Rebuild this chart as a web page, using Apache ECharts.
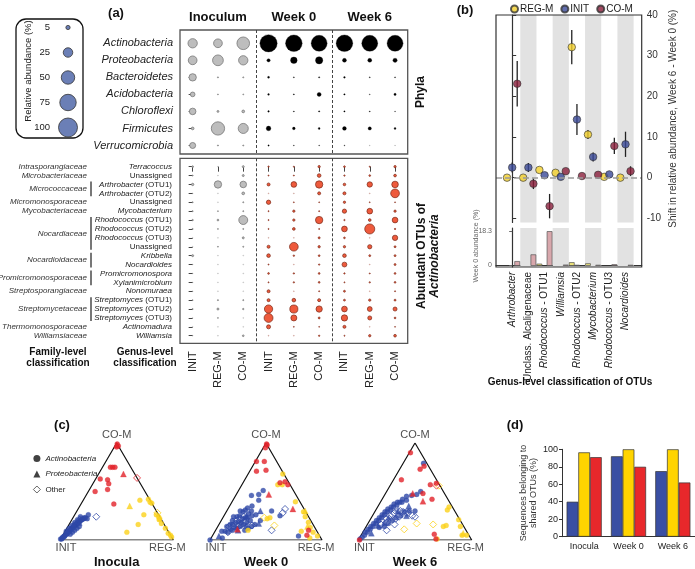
<!DOCTYPE html>
<html>
<head>
<meta charset="utf-8">
<script src="https://cdn.jsdelivr.net/npm/echarts@6.0.0/dist/echarts.min.js"></script>
<style>
html,body{margin:0;padding:0;background:#fff;}
#chart{width:695px;height:569px;}
</style>
</head>
<body>
<div id="chart"></div>
<script>
// ===================== DATA =====================
// ---- Panel (a) ----
const legendSizes = [5, 25, 50, 75, 100];
const sampleGroups = ['Inoculum', 'Week 0', 'Week 6'];
const treatments = ['INIT', 'REG-M', 'CO-M'];
const phyla = ['Actinobacteria', 'Proteobacteria', 'Bacteroidetes', 'Acidobacteria', 'Chloroflexi', 'Firmicutes', 'Verrucomicrobia'];
// columns: Inoculum INIT, REG-M, CO-M | Week 0 INIT, REG-M, CO-M | Week 6 INIT, REG-M, CO-M
const phylaAbundance = [
  [24, 21, 44, 83, 77, 71, 77, 71, 71],
  [21, 32, 24, 3, 12, 15, 4.4, 4.4, 5],
  [15, 0.3, 0.3, 1.1, 0.3, 0.5, 0.8, 0.3, 0.3],
  [6, 0.2, 0.2, 0.8, 0.3, 4.4, 0.6, 0.2, 1.5],
  [12, 1, 2, 0.7, 0.3, 0.5, 0.5, 0.3, 0.2],
  [2, 49, 28, 6, 2, 1, 4, 3, 1],
  [10, 0.3, 0.3, 0.5, 0.2, 0.2, 0.2, 0.1, 0.1]
];
const otuGenus = ['Terracoccus', 'Unassigned', 'Arthrobacter (OTU1)', 'Arthrobacter (OTU2)', 'Unassigned', 'Mycobacterium',
  'Rhodococcus (OTU1)', 'Rhodococcus (OTU2)', 'Rhodococcus (OTU3)', 'Unassigned', 'Kribbella', 'Nocardioides',
  'Promicromonospora', 'Xylanimicrobium', 'Nonomuraea', 'Streptomyces (OTU1)', 'Streptomyces (OTU2)', 'Streptomyces (OTU3)',
  'Actinomadura', 'Williamsia'];
const otuAbundance = [
  [0.8, 0.1, 1.1, 0.5, 0.3, 1.5, 0.8, 0.3, 1.5],
  [0.3, 0.1, 1.1, 0.3, 0.3, 3.7, 0.5, 0.8, 2],
  [1.5, 15, 12, 2.5, 9, 15, 1.8, 8, 12],
  [0.1, 0.1, 2, 0.1, 0.1, 2.5, 2.5, 0.1, 21],
  [0.3, 0.1, 0.3, 5.2, 0.2, 0.2, 1.5, 0.2, 0.2],
  [0.3, 0.2, 0.3, 0.3, 1.5, 0.3, 5, 9, 1.5],
  [0.5, 0.8, 22, 0.3, 1.5, 15, 0.5, 2, 9],
  [0.3, 0.2, 0.3, 0.3, 2, 0.3, 9, 28, 0.5],
  [0.1, 0.1, 1.1, 0.1, 0.1, 1.1, 0.8, 0.1, 8],
  [0.1, 0.2, 0.3, 2.5, 21, 1.5, 1.5, 5, 1],
  [1.1, 0.1, 0.1, 3.7, 0.6, 0.8, 3.7, 1, 1],
  [0.1, 0.1, 0.1, 0.3, 0.1, 0.5, 6.5, 0.1, 1],
  [0.1, 0.1, 0.1, 0.8, 0.5, 0.8, 0.5, 0.3, 0.8],
  [0.1, 0.1, 0.1, 0.3, 0.5, 0.8, 0.3, 0.5, 0.8],
  [0.1, 0.1, 0.1, 2.5, 0.1, 0.3, 1, 0.1, 0.3],
  [0.2, 0.3, 0.3, 2.5, 3.7, 2.5, 1, 1.5, 1],
  [0.3, 1.1, 0.5, 19, 18, 11, 9, 6.5, 4.5],
  [0.1, 0.2, 0.1, 22, 10, 1, 11, 4.5, 0.8],
  [0.1, 0.1, 0.1, 4.5, 0.2, 0.2, 2.5, 0.1, 0.2],
  [0.1, 0.1, 0.8, 0.1, 0.1, 0.5, 0.3, 1.5, 2]
];
// family name, first row index, last row index
const familyGroups = [
  ['Intrasporangiaceae', 0, 0], ['Microbacteriaceae', 1, 1], ['Micrococcaceae', 2, 3],
  ['Micromonosporaceae', 4, 4], ['Mycobacteriaceae', 5, 5], ['Nocardiaceae', 6, 9],
  ['Nocardioidaceae', 10, 11], ['Promicromonosporaceae', 12, 13], ['Streptosporangiaceae', 14, 14],
  ['Streptomycetaceae', 15, 17], ['Thermomonosporaceae', 18, 18], ['Williamsiaceae', 19, 19]
];

// ---- Panel (b) ----
const shiftGenus = ['Arthrobacter', 'Unclass. Alcaligenaceae', 'Rhodococcus - OTU1', 'Williamsia',
  'Rhodococcus - OTU2', 'Mycobacterium', 'Rhodococcus - OTU3', 'Nocardioides'];
const shiftREGM = [0, 0, 1.9, 1.2, 32.1, 10.6, 0.2, 0];
const shiftINIT = [2.5, 2.5, 0.6, 0.2, 14.3, 5.1, 0.8, 8.2];
const shiftCOM = [23.1, -1.5, -7.0, 1.6, 0.4, 0.7, 7.8, 1.6];
const errREGM = [0, 0, 0, 0, 4.2, 1.1, 0, 0];
const errINIT = [1.2, 1.1, 0, 0, 3.8, 1.1, 0, 3.1];
const errCOM = [5.6, 1.3, 3.0, 0, 0, 0, 2.0, 1.2];
const week0REGM = [0, 0, 0.8, 0, 1.6, 1.0, 0, 0];
const week0INIT = [0, 0, 0, 0, 0.2, 0, 0, 0];
const week0COM = [2.2, 5.8, 18.3, 0.3, 0, 0.2, 0.5, 0.2];

// ---- Panel (c) : ternary compositions [INIT %, REG-M %, CO-M %, phylum] a=Actinobacteria p=Proteobacteria o=Other
const inoculaINIT = [
  [99,0,1,'a'],[98,1,1,'a'],[97,1,2,'a'],[96,1,3,'a'],[95,2,3,'a'],[94,2,4,'a'],[93,2,5,'a'],[92,2,6,'a'],[91,3,6,'a'],
  [90,3,7,'a'],[89,3,8,'a'],[88,3,9,'a'],[87,4,9,'a'],[86,4,10,'a'],[85,4,11,'a'],[84,4,12,'a'],[83,5,12,'a'],[82,5,13,'a'],
  [81,5,14,'a'],[80,5,15,'a'],[79,6,15,'a'],[78,6,16,'a'],[77,6,17,'a'],[76,7,17,'a'],[75,7,18,'a'],[74,7,19,'a'],
  [73,8,19,'a'],[72,8,20,'a'],[71,8,21,'a'],[70,9,21,'a'],[69,9,22,'a'],[68,10,22,'a'],[67,10,23,'a'],[66,11,23,'a'],
  [88,6,6,'a'],[85,7,8,'a'],[82,8,10,'a'],[79,9,12,'a'],[76,10,14,'a'],[90,1,9,'a'],[86,2,12,'a'],[82,3,15,'a'],
  [78,4,18,'a'],[74,5,21,'a'],[70,6,24,'a'],[65,13,22,'a'],[62,12,26,'a'],
  [80,4,16,'p'],[74,8,18,'p'],
  [56,20,24,'o'],[72,7,21,'o']
];
const inoculaREGM = [
  [9,50,41,'a'],[1,57,42,'a'],[1,60,39,'a'],[0,62,38,'a'],[13,61,26,'a'],[2,72,26,'a'],[1,75,24,'a'],[1,77,22,'a'],
  [2,81,17,'a'],[23,61,16,'a'],[37,55,8,'a'],[1,87,12,'a'],[1,92,7,'a'],[0,97,3,'a'],[0,95,5,'a'],[2,77,21,'a'],
  [21,44,35,'p'],
  [0,72,28,'o']
];
const inoculaCOM = [
  [0,1,99,'a'],[0,3,97,'a'],[2,2,96,'a'],[18,7,75,'a'],[16,9,75,'a'],[14,11,75,'a'],[33,4,63,'a'],[27,11,62,'a'],
  [28,14,58,'a'],[32,16,52,'a'],[44,6,50,'a'],[34,29,37,'a'],
  [10,22,68,'p'],[1,1,98,'p'],
  [0,36,64,'o']
];
const week0INITtern = [
  [100,0,0,'a'],[88,10,2,'a'],[80,12,8,'a'],[75,15,10,'a'],[72,12,16,'a'],[70,18,12,'a'],[68,14,18,'a'],[66,20,14,'a'],
  [65,16,19,'a'],[63,19,18,'a'],[62,22,16,'a'],[60,18,22,'a'],[58,24,18,'a'],[57,20,23,'a'],[55,22,23,'a'],[54,26,20,'a'],
  [52,21,27,'a'],[50,25,25,'a'],[48,22,30,'a'],[46,28,26,'a'],[45,20,35,'a'],[40,14,46,'a'],[36,23,41,'a'],[27,22,51,'a'],
  [33,20,47,'a'],[25,50,25,'a'],[19,77,4,'a'],[78,8,14,'a'],[74,10,16,'a'],[70,10,20,'a'],[67,9,24,'a'],[64,12,24,'a'],
  [61,14,25,'a'],[58,12,30,'a'],[56,15,29,'a'],[53,16,31,'a'],[50,17,33,'a'],[60,28,12,'a'],[64,26,10,'a'],[56,30,14,'a'],
  [52,32,16,'a'],[85,6,9,'a'],[82,9,9,'a'],[76,13,11,'a'],[71,16,13,'a'],[30,40,30,'a'],[45,35,20,'a'],
  [70,20,10,'p'],[60,25,15,'p'],[40,30,30,'p'],[55,20,25,'p'],[90,6,4,'p'],[48,35,17,'p'],
  [72,14,14,'o'],[68,18,14,'o'],[64,20,16,'o'],[60,22,18,'o'],[66,14,20,'o'],[76,10,14,'o'],[58,18,24,'o'],[62,16,22,'o'],
  [17,51,32,'o'],[21,51,28,'o'],[40,50,10,'o'],[55,30,15,'o'],[80,12,8,'o']
];
const week0REGMtern = [
  [1,31,68,'a'],[11,32,57,'a'],[7,36,57,'a'],[4,56,39,'a'],[2,69,29,'a'],[3,73,24,'a'],[35,42,23,'a'],[3,78,18,'a'],
  [4,83,13,'a'],[4,89,8,'a'],[2,93,4,'a'],[61,29,10,'a'],[10,89,2,'a'],[14,77,9,'a'],[38,40,22,'a'],
  [0,70,30,'p'],[6,80,14,'p'],
  [40,37,23,'o'],[35,50,15,'o']
];
const week0COMtern = [
  [0,1,99,'a'],[0,2,97,'a'],[3,2,95,'a'],[18,1,81,'a'],[11,8,81,'a'],[23,6,71,'a'],[14,14,72,'a'],[3,37,60,'a'],
  [8,33,59,'a'],[2,41,57,'a'],[7,83,10,'a'],[11,84,5,'a'],
  [24,29,47,'p'],[10,58,32,'p'],[70,19,11,'p']
];
const week6INITtern = [
  [98,1,1,'a'],[95,2,3,'a'],[92,3,5,'a'],[90,2,8,'a'],[88,4,8,'a'],[86,3,11,'a'],[84,5,11,'a'],[82,4,14,'a'],[80,6,14,'a'],
  [78,5,17,'a'],[76,7,17,'a'],[74,6,20,'a'],[72,8,20,'a'],[70,7,23,'a'],[68,9,23,'a'],[66,8,26,'a'],[64,10,26,'a'],
  [62,9,29,'a'],[60,11,29,'a'],[58,10,32,'a'],[56,13,31,'a'],[54,12,34,'a'],[52,14,34,'a'],[50,13,37,'a'],[48,16,36,'a'],
  [46,15,39,'a'],[44,17,39,'a'],[42,19,39,'a'],[40,18,42,'a'],[37,22,41,'a'],[35,20,45,'a'],[30,24,46,'a'],[3,18,79,'a'],
  [20,30,50,'a'],[25,28,47,'a'],[60,20,20,'a'],[55,22,23,'a'],[50,25,25,'a'],[45,26,29,'a'],[40,30,30,'a'],[65,18,17,'a'],
  [70,16,14,'a'],[75,12,13,'a'],[35,35,30,'a'],
  [85,8,7,'p'],[75,10,15,'p'],[62,15,23,'p'],[50,20,30,'p'],[45,30,25,'p'],[68,14,18,'p'],[38,27,35,'p'],
  [64,14,22,'o'],[60,15,25,'o'],[57,17,26,'o'],[54,18,28,'o'],[50,20,30,'o'],[48,22,30,'o'],[52,24,24,'o'],[56,22,22,'o'],
  [46,25,29,'o'],[44,28,28,'o'],[42,30,28,'o'],[60,24,16,'o'],[66,16,18,'o'],[72,12,16,'o'],[40,35,25,'o'],[38,38,24,'o'],
  [70,20,10,'o']
];
const week6REGMtern = [
  [3,63,34,'a'],[6,63,31,'a'],[1,78,21,'a'],[18,68,14,'a'],[15,70,15,'a'],[3,83,14,'a'],[6,89,5,'a'],[2,93,5,'a'],[30,69,1,'a'],
  [4,89,7,'p'],
  [26,58,16,'o'],[40,43,17,'o'],[54,35,11,'o'],[1,43,56,'o']
];
const week6COMtern = [
  [9,1,90,'a'],[9,18,73,'a'],[4,20,76,'a'],[31,7,62,'a'],[8,35,57,'a'],[2,40,59,'a'],[19,33,48,'a'],[14,44,42,'a'],
  [30,64,6,'a'],[31,68,1,'a'],[99,1,0,'a'],
  [28,24,48,'p'],[23,37,40,'p'],
  [3,41,56,'o']
];

// ---- Panel (d) ----
const sharedCats = ['Inocula', 'Week 0', 'Week 6'];
const sharedINIT = [40, 92, 75];
const sharedREGM = [96.5, 100, 100];
const sharedCOM = [91, 80, 62];

// ===================== CHART =====================
const FF = 'Liberation Sans, Arial, Helvetica, sans-serif';
const chart = echarts.init(document.getElementById('chart'), null, {renderer: 'canvas'});
const grids = [], xAxes = [], yAxes = [], series = [];
function addGrid(g, xa, ya) {
  grids.push(g);
  const gi = grids.length - 1;
  xa.gridIndex = gi; ya.gridIndex = gi;
  if (!xa.splitLine) xa.splitLine = {show: false};
  if (!ya.splitLine) ya.splitLine = {show: false};
  xAxes.push(xa); yAxes.push(ya);
  return {gi: gi, xi: xAxes.length - 1, yi: yAxes.length - 1};
}
function bub(v) { return Math.max(0.9, 1.9 * Math.sqrt(v)); }
const nCols = sampleGroups.length * treatments.length;
const colIdx = Array.from({length: nCols}, (_, i) => i);
const groupBounds = sampleGroups.slice(1).map((_, g) => ({xAxis: (g + 1) * treatments.length - 0.5}));
const dashedSep = {silent: true, symbol: 'none', label: {show: false}, lineStyle: {type: [3, 2], color: '#444', width: 1}, data: groupBounds};

// --- size legend of (a)
const LA = addGrid({left: 55, top: 15, width: 26, height: 125},
  {type: 'value', min: -1, max: 1, show: false},
  {type: 'category', data: legendSizes.map(String), inverse: true, axisLine: {show: false}, axisTick: {show: false},
   axisLabel: {fontSize: 9.5, color: '#222', margin: 5, fontFamily: FF}});
series.push({type: 'scatter', silent: true, xAxisIndex: LA.xi, yAxisIndex: LA.yi,
  data: legendSizes.map((v, i) => [0, i, v]), symbolSize: d => bub(d[2]),
  itemStyle: {color: '#6b7fb6', borderColor: '#333', borderWidth: 0.8, opacity: 1}});

// --- phyla bubble grid
const PG = addGrid({left: 180, top: 30, width: 227.7, height: 124, show: true, borderColor: '#555', borderWidth: 1.3},
  {type: 'value', min: -0.5, max: nCols - 0.5, axisLine: {show: false}, axisTick: {show: false}, axisLabel: {show: false}},
  {type: 'value', min: -0.78, max: phyla.length - 0.5, inverse: true, axisLine: {show: false},
   axisTick: {show: true, length: 4, customValues: phyla.map((_, i) => i), lineStyle: {color: '#444'}},
   axisLabel: {customValues: phyla.map((_, i) => i), formatter: v => phyla[Math.round(v)] || '',
     fontSize: 11, fontStyle: 'italic', color: '#222', margin: 7, fontFamily: FF}});
xAxes.push({type: 'value', gridIndex: PG.gi, position: 'top', min: -0.5, max: nCols - 0.5,
  axisLine: {show: false}, axisTick: {show: false}, splitLine: {show: false},
  axisLabel: {customValues: sampleGroups.map((_, g) => g * 3 + 1), formatter: v => sampleGroups[Math.round((v - 1) / 3)] || '',
    fontWeight: 'bold', fontSize: 13, color: '#111', margin: 6, fontFamily: FF}});
function bubbleItems(rows, colFilter) {
  const out = [];
  rows.forEach((row, r) => row.forEach((v, c) => {
    if (colFilter(c)) out.push({value: [c, r, v], itemStyle: {opacity: v < 0.15 ? 0.35 : 1}});
  }));
  return out;
}
series.push({type: 'scatter', silent: true, xAxisIndex: PG.xi, yAxisIndex: PG.yi, z: 3,
  data: bubbleItems(phylaAbundance, c => c < 3), symbolSize: d => bub(d[2]),
  itemStyle: {color: '#bdbdbd', borderColor: '#777', borderWidth: 0.8}, markLine: dashedSep});
series.push({type: 'scatter', silent: true, xAxisIndex: PG.xi, yAxisIndex: PG.yi, z: 3,
  data: bubbleItems(phylaAbundance, c => c >= 3), symbolSize: d => bub(d[2]),
  itemStyle: {color: '#000', borderColor: '#000', borderWidth: 0.3}});

// --- OTU bubble grid
function otuLabel(v) {
  const g = otuGenus[Math.round(v)];
  if (!g) return '';
  if (g === 'Unassigned') return '{n|Unassigned}';
  const k = g.indexOf(' (');
  return k < 0 ? '{i|' + g + '}' : '{i|' + g.slice(0, k) + '}{n|' + g.slice(k) + '}';
}
const OG = addGrid({left: 180, top: 158.3, width: 227.7, height: 185, show: true, borderColor: '#555', borderWidth: 1.3},
  {type: 'value', min: -0.5, max: nCols - 0.5, position: 'bottom', axisLine: {show: false},
   axisTick: {show: true, length: 5, customValues: colIdx, lineStyle: {color: '#444'}},
   axisLabel: {customValues: colIdx, formatter: v => treatments[Math.round(v) % 3], rotate: 90, fontSize: 11, color: '#222', margin: 8, fontFamily: FF}},
  {type: 'value', min: -0.94, max: otuGenus.length - 0.15, inverse: true, axisLine: {show: false},
   axisTick: {show: true, length: 4, customValues: otuGenus.map((_, i) => i), lineStyle: {color: '#444'}},
   axisLabel: {customValues: otuGenus.map((_, i) => i), formatter: otuLabel, margin: 8,
     rich: {i: {fontStyle: 'italic', fontSize: 8, color: '#222', fontFamily: FF}, n: {fontSize: 8, color: '#222', fontFamily: FF}}}});
series.push({type: 'scatter', silent: true, xAxisIndex: OG.xi, yAxisIndex: OG.yi, z: 3,
  data: bubbleItems(otuAbundance, c => c < 3), symbolSize: d => bub(d[2]),
  itemStyle: {color: '#bdbdbd', borderColor: '#777', borderWidth: 0.8}, markLine: dashedSep});
series.push({type: 'scatter', silent: true, xAxisIndex: OG.xi, yAxisIndex: OG.yi, z: 3,
  data: bubbleItems(otuAbundance, c => c >= 3), symbolSize: d => bub(d[2]),
  itemStyle: {color: '#ee5a3c', borderColor: '#7a2a18', borderWidth: 0.7}});

// --- Panel (b): shift grid
const bColors = {'REG-M': '#f3cf2c', 'INIT': '#3a4997', 'CO-M': '#8a1e3b'};
const bBarColors = {'REG-M': '#ebe27a', 'INIT': '#a6a9d6', 'CO-M': '#d8a7ac'};
const dodge = {'REG-M': -0.32, 'INIT': 0, 'CO-M': 0.31};
const bandAreas = shiftGenus.map((_, i) => i).filter(i => i % 2 === 1).map(i => [{xAxis: i - 0.5}, {xAxis: i + 0.5}]);
const BS = addGrid({left: 496, top: 15, width: 145.7, height: 207.4},
  {type: 'value', min: -1, max: shiftGenus.length, show: false},
  {type: 'value', min: -11, max: 40, position: 'right',
   axisLine: {show: true, lineStyle: {color: '#333', width: 1.2}},
   axisTick: {show: true, length: 4, customValues: [-10, 0, 10, 20, 30, 40], lineStyle: {color: '#333'}},
   axisLabel: {customValues: [-10, 0, 10, 20, 30, 40], fontSize: 10, color: '#333', margin: 5, fontFamily: FF},
   name: 'Shift in relative abundance, Week 6 - Week 0 (%)', nameLocation: 'middle', nameRotate: 90, nameGap: 27,
   nameTextStyle: {fontSize: 10, color: '#333', fontFamily: FF}});
const BB = addGrid({left: 496, top: 228, width: 145.7, height: 39},
  {type: 'value', min: -1, max: shiftGenus.length, position: 'bottom',
   axisLine: {show: true, lineStyle: {color: '#333', width: 1.2}}, axisTick: {show: false},
   axisLabel: {customValues: shiftGenus.map((_, i) => i), rotate: 90, margin: 5,
     formatter: v => {
       const g = shiftGenus[Math.round(v)];
       if (!g) return '';
       if (g.indexOf('Unclass') === 0) return '{n|' + g + '}';
       const p = g.split(' - ');
       return '{i|' + p[0] + '}' + (p[1] ? '{n| - ' + p[1] + '}' : '');
     },
     rich: {i: {fontStyle: 'italic', fontSize: 10, color: '#222', fontFamily: FF}, n: {fontSize: 10, color: '#222', fontFamily: FF}}}},
  {type: 'value', min: -0.8, max: 20.2, position: 'left',
   axisLine: {show: true, lineStyle: {color: '#333', width: 1.2}},
   axisTick: {show: true, length: 3, customValues: [0, 18.3], lineStyle: {color: '#666'}},
   axisLabel: {customValues: [0, 18.3], fontSize: 7, color: '#666', margin: 4, fontFamily: FF}});
// gray bands
series.push({type: 'scatter', silent: true, xAxisIndex: BS.xi, yAxisIndex: BS.yi, data: [], z: 0,
  markArea: {silent: true, itemStyle: {color: '#e2e2e2'}, data: bandAreas},
  markLine: {silent: true, symbol: 'none', label: {show: false}, lineStyle: {type: [6, 3], color: '#9a9a9a', width: 1.6}, data: [{yAxis: 0}]}});
series.push({type: 'scatter', silent: true, xAxisIndex: BB.xi, yAxisIndex: BB.yi, data: [], z: 0,
  markArea: {silent: true, itemStyle: {color: '#e2e2e2'}, data: bandAreas}});
const shiftSets = [['REG-M', shiftREGM, errREGM, week0REGM], ['INIT', shiftINIT, errINIT, week0INIT], ['CO-M', shiftCOM, errCOM, week0COM]];
shiftSets.forEach(([name, vals, errs, w0]) => {
  series.push({type: 'custom', name: 'err ' + name, silent: true, xAxisIndex: BS.xi, yAxisIndex: BS.yi, z: 2,
    data: vals.map((v, i) => [i + dodge[name], v, errs[i]]),
    renderItem: (params, api) => {
      const x = api.value(0), v = api.value(1), e = api.value(2);
      if (!e) return null;
      const a = api.coord([x, v + e]), b = api.coord([x, v - e]);
      return {type: 'line', shape: {x1: a[0], y1: a[1], x2: b[0], y2: b[1]}, style: {stroke: '#222', lineWidth: 1.3}};
    }});
  series.push({type: 'scatter', name: name, silent: true, xAxisIndex: BS.xi, yAxisIndex: BS.yi, z: 4,
    data: vals.map((v, i) => [i + dodge[name], v]), symbolSize: 7.5,
    itemStyle: {color: bColors[name], borderColor: '#333', borderWidth: 0.8}});
  series.push({type: 'custom', name: 'w0 ' + name, silent: true, xAxisIndex: BB.xi, yAxisIndex: BB.yi, z: 3,
    data: w0.map((v, i) => [i + dodge[name], v]),
    renderItem: (params, api) => {
      const x = api.value(0), v = api.value(1);
      if (!v) return null;
      const p0 = api.coord([x, 0]), p1 = api.coord([x, v]);
      const w = api.size([0.31, 0])[0];
      return {type: 'rect', shape: {x: p0[0] - w / 2, y: p1[1], width: w, height: p0[1] - p1[1]},
        style: {fill: bBarColors[name], stroke: '#555', lineWidth: 0.7}};
    }});
});

// --- Panel (c): ternary plots
const ternColors = ['#2f49a7', '#fbd21c', '#e2232b'];
const ternPanels = [
  {title: 'Inocula', left: 60, width: 113.3, groups: [inoculaINIT, inoculaREGM, inoculaCOM]},
  {title: 'Week 0', left: 210, width: 112, groups: [week0INITtern, week0REGMtern, week0COMtern]},
  {title: 'Week 6', left: 358.3, width: 113.4, groups: [week6INITtern, week6REGMtern, week6COMtern]}
];
const ternCorners = [[100, 0, 0], [0, 100, 0], [0, 0, 100]];
function tern(p) { const s = p[0] + p[1] + p[2]; const r = p[1] / s, c = p[2] / s; return [r + c / 2, c * Math.sqrt(3) / 2]; }
const shapeDefs = {a: {symbol: 'circle', size: 5}, p: {symbol: 'triangle', size: 6}, o: {symbol: 'diamond', size: 7}};
const ternGridIdx = [];
ternPanels.forEach(tp => {
  const T = addGrid({left: tp.left, top: 443, width: tp.width, height: 97},
    {type: 'value', min: 0, max: 1, show: false},
    {type: 'value', min: 0, max: Math.sqrt(3) / 2, show: false});
  ternGridIdx.push(T);
  series.push({type: 'line', silent: true, xAxisIndex: T.xi, yAxisIndex: T.yi, z: 1, symbol: 'none',
    data: ternCorners.concat([ternCorners[0]]).map(tern), lineStyle: {color: '#111', width: 1.2}});
  series.push({type: 'scatter', silent: true, xAxisIndex: T.xi, yAxisIndex: T.yi, z: 1, symbolSize: 1,
    itemStyle: {color: 'rgba(0,0,0,0)'},
    label: {show: true, fontSize: 11, color: '#222', fontFamily: FF},
    data: [
      {value: tern(ternCorners[0]), label: {formatter: 'INIT', position: 'bottom', distance: 2, offset: [6, 0]}},
      {value: tern(ternCorners[1]), label: {formatter: 'REG-M', position: 'bottom', distance: 2, offset: [-6, 0]}},
      {value: tern(ternCorners[2]), label: {formatter: 'CO-M', position: 'top', distance: 2}}
    ]});
  tp.groups.forEach((grp, gi) => {
    ['a', 'p', 'o'].forEach(sh => {
      const pts = grp.filter(p => p[3] === sh).map(tern);
      if (!pts.length) return;
      const sd = shapeDefs[sh];
      series.push({type: 'scatter', name: 'tern-' + gi + sh, silent: true, xAxisIndex: T.xi, yAxisIndex: T.yi, z: 3 + gi,
        symbol: sd.symbol, symbolSize: sd.size, data: pts,
        itemStyle: sh === 'o' ? {color: 'rgba(255,255,255,0)', borderColor: ternColors[gi], borderWidth: 1}
                               : {color: ternColors[gi], borderColor: ternColors[gi], borderWidth: 0.3}});
    });
  });
});
// legend dummy series for (c)
series.push({type: 'scatter', name: 'Actinobacteria', xAxisIndex: ternGridIdx[0].xi, yAxisIndex: ternGridIdx[0].yi, data: [], itemStyle: {color: '#111'}});
series.push({type: 'scatter', name: 'Proteobacteria', xAxisIndex: ternGridIdx[0].xi, yAxisIndex: ternGridIdx[0].yi, data: [], itemStyle: {color: '#111'}});
series.push({type: 'scatter', name: 'Other', xAxisIndex: ternGridIdx[0].xi, yAxisIndex: ternGridIdx[0].yi, data: [], itemStyle: {color: '#fff', borderColor: '#111', borderWidth: 0.8}});

// --- Panel (d)
const DG = addGrid({left: 562, top: 449.3, height: 87.4, right: -5},
  {type: 'category', data: sharedCats, axisTick: {show: false}, axisLine: {lineStyle: {color: '#333', width: 1}},
   axisLabel: {fontSize: 9, color: '#222', margin: 5, fontFamily: FF}},
  {type: 'value', min: 0, max: 100, interval: 20, axisLine: {show: true, lineStyle: {color: '#333', width: 1}},
   axisTick: {show: true, length: 3}, axisLabel: {fontSize: 9, color: '#222', margin: 4, fontFamily: FF},
   name: 'Sequences belonging to\nshared OTUs (%)', nameLocation: 'middle', nameRotate: 90, nameGap: 23,
   nameTextStyle: {fontSize: 9, color: '#333', lineHeight: 10, fontFamily: FF}});
[['INIT', sharedINIT, '#3a4fa3'], ['REG-M', sharedREGM, '#ffd400'], ['CO-M', sharedCOM, '#e8282b']].forEach(([n, vals, col]) => {
  series.push({type: 'bar', name: 'shared ' + n, silent: true, xAxisIndex: DG.xi, yAxisIndex: DG.yi, data: vals,
    barWidth: 11.7, barGap: '0%', itemStyle: {color: col, borderColor: '#333', borderWidth: 0.7}});
});

const option = {
  animation: false,
  backgroundColor: '#fff',
  textStyle: {fontFamily: FF},
  grid: grids, xAxis: xAxes, yAxis: yAxes, series: series,
  legend: [
    {data: ['REG-M', 'INIT', 'CO-M'], top: -1, left: 505, icon: 'circle', itemWidth: 7, itemHeight: 7, itemGap: 7,
     selectedMode: false, textStyle: {fontSize: 10, color: '#222', fontFamily: FF, padding: [0, 0, 0, -3]}},
    {data: [
       {name: 'Actinobacteria', icon: 'circle', textStyle: {fontStyle: 'italic'}},
       {name: 'Proteobacteria', icon: 'triangle', textStyle: {fontStyle: 'italic'}},
       {name: 'Other', icon: 'diamond', itemStyle: {color: '#fff', borderColor: '#111', borderWidth: 0.8}}],
     orient: 'vertical', left: 28, top: 449.5, itemWidth: 7, itemHeight: 7, itemGap: 7.5, selectedMode: false,
     textStyle: {fontSize: 8, color: '#222', fontFamily: FF}}
  ]
};
chart.setOption(option);

// ---- texts & decorations (positions from the axes where tied to data rows)
function txt(text, x, y, o) {
  o = o || {};
  return {type: 'text', x: x, y: y, rotation: o.rot || 0, silent: true, z: 10,
    style: {text: text, fill: o.color || '#111', fontSize: o.size || 11, fontWeight: o.weight || 'normal',
      fontStyle: o.style || 'normal', fontFamily: FF, align: o.align || 'center', textAlign: o.align || 'center',
      verticalAlign: 'middle', textVerticalAlign: 'middle', lineHeight: o.lh || undefined}};
}
const gfx = [];
gfx.push({type: 'rect', silent: true, shape: {x: 16, y: 19, width: 67, height: 119, r: 10}, style: {fill: 'none', stroke: '#111', lineWidth: 1.3}});
gfx.push(txt('Relative abundance (%)', 28, 71, {rot: Math.PI / 2, size: 9.5, color: '#222'}));
gfx.push(txt('(a)', 116, 13, {weight: 'bold', size: 13}));
gfx.push(txt('(b)', 465, 10, {weight: 'bold', size: 13}));
gfx.push(txt('(c)', 62, 425, {weight: 'bold', size: 13}));
gfx.push(txt('(d)', 515, 425, {weight: 'bold', size: 13}));
gfx.push(txt('Phyla', 421, 92, {rot: Math.PI / 2, weight: 'bold', size: 12}));
gfx.push(txt('Abundant OTUs of', 422, 256, {rot: Math.PI / 2, weight: 'bold', size: 12}));
gfx.push(txt('Actinobacteria', 435, 256, {rot: Math.PI / 2, weight: 'bold', style: 'italic', size: 12}));
gfx.push(txt('Family-level\nclassification', 58, 358, {weight: 'bold', size: 10, lh: 11}));
gfx.push(txt('Genus-level\nclassification', 145, 358, {weight: 'bold', size: 10, lh: 11}));
gfx.push(txt('Week 0 abundance (%)', 476, 246, {rot: Math.PI / 2, size: 7, color: '#666'}));
gfx.push(txt('Genus-level classification of OTUs', 570, 382, {weight: 'bold', size: 10}));
gfx.push({type: 'rect', silent: true, z: 9, shape: {x: 496, y: 15, width: 145.7, height: 252}, style: {fill: 'none', stroke: '#333', lineWidth: 1.2}});
ternPanels.forEach(tp => gfx.push(txt(tp.title, tp.left + tp.width / 2, 562, {weight: 'bold', size: 13})));
familyGroups.forEach(([name, a, b]) => {
  const ya = chart.convertToPixel({yAxisIndex: OG.yi}, a);
  const yb = chart.convertToPixel({yAxisIndex: OG.yi}, b);
  gfx.push(txt(name, 87, (ya + yb) / 2, {align: 'right', style: 'italic', size: 8, color: '#333'}));
  if (b > a) gfx.push({type: 'line', silent: true, shape: {x1: 91, y1: ya - 3, x2: 91, y2: yb + 3}, style: {stroke: '#777', lineWidth: 2}});
});
chart.setOption({graphic: gfx});
</script>
</body>
</html>
